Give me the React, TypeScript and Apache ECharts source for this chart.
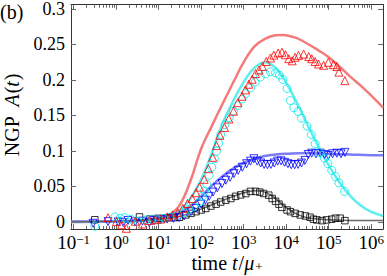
import React, { useEffect, useRef } from "react";
import * as echarts from "echarts";

const FONT = "'Liberation Serif', 'DejaVu Serif', serif";

// axis extents
const X_MIN = 0.087;
const X_MAX = 1.9e6;
const Y_MIN = -0.01;
const Y_MAX = 0.306;

// tick positions
const xMajorExponents = [-1, 0, 1, 2, 3, 4, 5, 6];
const xMinorDecades = [-2, -1, 0, 1, 2, 3, 4, 5, 6];
const xMinorMultipliers = [2, 3, 4, 5, 6, 7, 8, 9];
const yTickValues = [0, 0.05, 0.1, 0.15, 0.2, 0.25, 0.3];
const yTickLabels = ["0", "0.05", "0.1", "0.15", "0.2", "0.25", "0.3"];

// fitted curves (log10 t, A)
const redFitLogT = [-1.06, 0, 0.5, 1.0, 1.25, 1.5, 1.75, 2.0, 2.25, 2.5, 2.75, 3.0, 3.25, 3.5, 3.75, 3.9, 4.0, 4.25, 4.5, 4.75, 5.0, 5.25, 5.5, 5.75, 6.0, 6.28];
const redFitA = [0, 0.0003, 0.001, 0.005, 0.01, 0.024, 0.058, 0.103, 0.135, 0.166, 0.196, 0.225, 0.247, 0.258, 0.263, 0.2635, 0.263, 0.259, 0.251, 0.242, 0.232, 0.219, 0.205, 0.192, 0.178, 0.161];

const cyanFitLogT = [-1.06, 0, 0.5, 1.0, 1.25, 1.5, 1.75, 2.0, 2.25, 2.5, 2.75, 3.0, 3.25, 3.5, 3.75, 4.0, 4.25, 4.5, 4.75, 5.0, 5.25, 5.5, 5.75, 6.0, 6.28];
const cyanFitA = [0, 0.0003, 0.001, 0.004, 0.008, 0.016, 0.033, 0.06, 0.097, 0.138, 0.17, 0.197, 0.217, 0.225, 0.217, 0.196, 0.168, 0.137, 0.107, 0.08, 0.056, 0.037, 0.023, 0.014, 0.0085];

const blueFitLogT = [-1.06, 0, 0.5, 1.0, 1.25, 1.5, 1.75, 2.0, 2.25, 2.5, 2.75, 3.0, 3.25, 3.5, 3.75, 4.0, 4.5, 5.0, 5.5, 6.0, 6.28];
const blueFitA = [0.0005, 0.001, 0.002, 0.005, 0.008, 0.013, 0.022, 0.036, 0.051, 0.064, 0.075, 0.083, 0.089, 0.093, 0.095, 0.096, 0.097, 0.096, 0.095, 0.094, 0.094];

const grayFitLogT = [-1.06, 0, 0.5, 1.0, 1.5, 2.0, 2.5, 3.0, 3.25, 3.5, 3.75, 4.0, 4.25, 4.5, 5.0, 5.5, 6.28];
const grayFitA = [0, 0.001, 0.002, 0.004, 0.008, 0.018, 0.03, 0.041, 0.044, 0.042, 0.033, 0.02, 0.011, 0.006, 0.003, 0.002, 0.002];

// simulation data (log10 t, A)
const redLogT = [-0.19, 0.01, 0.13, 0.24, 0.45, 0.62, 0.78, 0.92, 1.05, 1.2, 1.33, 1.45, 1.57, 1.68, 1.79, 1.88, 1.96, 2.07, 2.17, 2.27, 2.36, 2.44, 2.55, 2.65, 2.76, 2.86, 2.96, 3.04, 3.12, 3.2, 3.28, 3.36, 3.44, 3.53, 3.63, 3.71, 3.81, 3.9, 3.98, 4.06, 4.14, 4.21, 4.29, 4.41, 4.53, 4.6, 4.68, 4.76, 4.88, 4.99, 5.11, 5.19, 5.24, 5.38];
const redA = [0.006, 0.0004, -0.004, -0.009, 0.001, -0.003, 0.002, 0.003, 0.004, 0.007, 0.0098, 0.013, 0.019, 0.026, 0.033, 0.041, 0.049, 0.06, 0.075, 0.091, 0.1075, 0.122, 0.133, 0.145, 0.156, 0.168, 0.177, 0.186, 0.194, 0.201, 0.209, 0.214, 0.219, 0.226, 0.231, 0.235, 0.238, 0.239, 0.2356, 0.23, 0.227, 0.232, 0.2346, 0.2365, 0.233, 0.23, 0.226, 0.2225, 0.2207, 0.2249, 0.2216, 0.219, 0.211, 0.199];

const cyanLogT = [-0.5, -0.03, 0.09, 0.2, 0.35, 0.5, 0.7, 0.85, 1.0, 1.12, 1.25, 1.45, 1.6, 1.72, 1.84, 1.96, 2.03, 2.08, 2.13, 2.19, 2.25, 2.31, 2.36, 2.41, 2.46, 2.56, 2.66, 2.76, 2.86, 2.96, 3.05, 3.16, 3.27, 3.39, 3.51, 3.63, 3.75, 3.84, 3.92, 4.02, 4.1, 4.18, 4.28, 4.36, 4.49, 4.59, 4.68, 4.78, 4.9, 4.98, 5.07, 5.16, 5.24, 5.37];
const cyanA = [-0.006, 0.007, 0.005, 0.006, 0.004, 0.001, 0.003, 0.004, 0.003, 0.005, 0.0066, 0.0098, 0.013, 0.0177, 0.022, 0.028, 0.036, 0.0437, 0.053, 0.0656, 0.077, 0.089, 0.0996, 0.111, 0.123, 0.137, 0.147, 0.156, 0.164, 0.173, 0.181, 0.189, 0.197, 0.204, 0.2086, 0.2115, 0.21, 0.2067, 0.2006, 0.188, 0.171, 0.161, 0.1555, 0.146, 0.135, 0.123, 0.11, 0.098, 0.09, 0.082, 0.0726, 0.064, 0.055, 0.043];

const blueLogT = [-0.54, -0.19, 0.05, 0.17, 0.28, 0.45, 0.62, 0.78, 0.9, 1.05, 1.2, 1.35, 1.48, 1.6, 1.76, 1.88, 2.0, 2.1, 2.19, 2.28, 2.38, 2.49, 2.58, 2.68, 2.77, 2.87, 2.97, 3.07, 3.16, 3.24, 3.32, 3.4, 3.48, 3.56, 3.64, 3.72, 3.8, 3.88, 3.96, 4.04, 4.12, 4.2, 4.28, 4.36, 4.44, 4.52, 4.6, 4.7, 4.8, 4.9, 4.99, 5.09, 5.19, 5.29, 5.38];
const blueA = [-0.002, 0.0004, 0.0, -0.001, 0.002, 0.0, 0.001, -0.001, 0.002, 0.003, 0.004, 0.005, 0.006, 0.0084, 0.0144, 0.019, 0.025, 0.0307, 0.036, 0.042, 0.048, 0.054, 0.0587, 0.063, 0.068, 0.0726, 0.077, 0.082, 0.0856, 0.089, 0.0856, 0.083, 0.081, 0.0806, 0.081, 0.083, 0.0856, 0.086, 0.084, 0.082, 0.0806, 0.0806, 0.081, 0.083, 0.0866, 0.095, 0.0968, 0.096, 0.0968, 0.095, 0.0936, 0.096, 0.0968, 0.096, 0.098];

const blackLogT = [-0.5, 0.55, 0.8, 0.98, 1.12, 1.25, 1.37, 1.49, 1.64, 1.76, 1.88, 2.0, 2.11, 2.23, 2.35, 2.46, 2.58, 2.7, 2.81, 2.93, 3.05, 3.16, 3.28, 3.38, 3.47, 3.59, 3.67, 3.75, 3.83, 3.9, 4.02, 4.1, 4.21, 4.33, 4.45, 4.56, 4.64, 4.72, 4.84, 4.95, 5.07, 5.16, 5.27, 5.38];
const blackA = [0.003, 0.007, 0.004, 0.005, 0.005, 0.006, 0.006, 0.0066, 0.0098, 0.012, 0.0144, 0.0168, 0.019, 0.0223, 0.025, 0.028, 0.0307, 0.033, 0.036, 0.038, 0.04, 0.043, 0.043, 0.042, 0.04, 0.0377, 0.033, 0.029, 0.025, 0.0205, 0.0168, 0.0144, 0.012, 0.0098, 0.0084, 0.0066, 0.0038, 0.0028, 0.0018, 0.0028, 0.0038, 0.0052, 0.0052, 0.0018];

const pairs = (logT: number[], a: number[]) => logT.map((l, i) => [Math.pow(10, l), a[i]]);

const xMajorValues = xMajorExponents.map((e) => Math.pow(10, e));
const xMinorValues: number[] = [];
xMinorDecades.forEach((d) =>
  xMinorMultipliers.forEach((m) => {
    const v = m * Math.pow(10, d);
    if (v > X_MIN && v < X_MAX) xMinorValues.push(v);
  })
);

const AXIS_COLOR = "#333";
const TICK_COLOR = "#666";

function xAxisCfg(position: "top" | "bottom", values: number[], len: number, labels: boolean, line: boolean) {
  return {
    type: "log",
    logBase: 10,
    min: X_MIN,
    max: X_MAX,
    position,
    axisLine: { show: line, onZero: false, lineStyle: { color: AXIS_COLOR, width: 1 } },
    axisTick: { show: true, inside: true, length: len, customValues: values, lineStyle: { color: TICK_COLOR, width: 1 } },
    axisLabel: labels
      ? {
          show: true,
          customValues: values,
          margin: 4,
          formatter: (v: number) => {
            const e = Math.round(Math.log10(v));
            return `{b|10}{e|${e < 0 ? "\u2212" + -e : e}}`;
          },
          rich: {
            b: { fontSize: 19, fontFamily: FONT, color: "#000", verticalAlign: "bottom", lineHeight: 19 },
            e: { fontSize: 13, fontFamily: FONT, color: "#000", verticalAlign: "top", lineHeight: 12 },
          },
        }
      : { show: false },
    splitLine: { show: false },
    minorTick: { show: false },
  };
}

function yAxisCfg(position: "left" | "right", labels: boolean) {
  return {
    type: "value",
    min: Y_MIN,
    max: Y_MAX,
    position,
    axisLine: { show: true, onZero: false, lineStyle: { color: AXIS_COLOR, width: 1 } },
    axisTick: { show: true, inside: true, length: 5, customValues: yTickValues, lineStyle: { color: TICK_COLOR, width: 1 } },
    axisLabel: labels
      ? {
          show: true,
          customValues: yTickValues,
          margin: 6,
          fontSize: 18,
          fontFamily: FONT,
          color: "#000",
          formatter: (v: number) => yTickLabels[yTickValues.findIndex((t) => Math.abs(t - v) < 1e-9)] ?? "",
        }
      : { show: false },
    splitLine: { show: false },
  };
}

function fitLine(name: string, logT: number[], a: number[], color: string, width: number) {
  return {
    name,
    type: "line",
    data: pairs(logT, a),
    smooth: 0.4,
    showSymbol: false,
    symbol: "none",
    lineStyle: { color, width },
    xAxisIndex: 0,
    yAxisIndex: 0,
    z: 2,
  };
}

function markers(name: string, logT: number[], a: number[], symbol: string, size: number, color: string, rotate = 0) {
  return {
    name,
    type: "scatter",
    data: pairs(logT, a),
    symbol,
    symbolSize: size,
    symbolRotate: rotate,
    itemStyle: { color: "rgba(0,0,0,0)", borderColor: color, borderWidth: 1 },
    xAxisIndex: 0,
    yAxisIndex: 0,
    z: 3,
  };
}

const option = {
  animation: false,
  textStyle: { fontFamily: FONT },
  grid: { left: 71, right: 2, top: 3, bottom: 47, containLabel: false },
  xAxis: [
    xAxisCfg("bottom", xMajorValues, 5, true, true),
    xAxisCfg("bottom", xMinorValues, 3, false, false),
    xAxisCfg("top", xMajorValues, 5, false, true),
    xAxisCfg("top", xMinorValues, 3, false, false),
  ],
  yAxis: [yAxisCfg("left", true), yAxisCfg("right", false)],
  series: [
    fitLine("redFit", redFitLogT, redFitA, "#f37b7b", 2.5),
    fitLine("cyanFit", cyanFitLogT, cyanFitA, "#5eeeee", 2.5),
    fitLine("blueFit", blueFitLogT, blueFitA, "#7c7cf4", 2.5),
    fitLine("grayFit", grayFitLogT, grayFitA, "#6a6a6a", 1.5),
    markers("black", blackLogT, blackA, "rect", 6.5, "#000"),
    markers("blue", blueLogT, blueA, "triangle", 8, "#0000ff", 180),
    markers("cyan", cyanLogT, cyanA, "circle", 8, "#00e8e8"),
    markers("red", redLogT, redA, "triangle", 8, "#ff0000"),
  ],
  graphic: [
    {
      type: "text",
      left: 0,
      top: 2,
      style: { text: "(b)", fontSize: 20, fontFamily: FONT, fill: "#000" },
    },
    {
      type: "text",
      x: 12,
      y: 115,
      rotation: Math.PI / 2,
      style: {
        text: "{r|NGP  }{i|A}{r|(}{i|t}{r|)}",
        align: "center",
        verticalAlign: "middle",
        rich: {
          r: { fontSize: 20, fontFamily: FONT, fill: "#000" },
          i: { fontSize: 20, fontFamily: FONT, fontStyle: "italic", fill: "#000", padding: [0, 1, 0, 0] },
        },
      },
    },
    {
      type: "text",
      x: 227,
      y: 263,
      style: {
        text: "{r|time }{i|t}{r|/}{i|\u03bc}{s|+}",
        align: "center",
        verticalAlign: "middle",
        rich: {
          r: { fontSize: 20, fontFamily: FONT, fill: "#000", verticalAlign: "top", lineHeight: 20 },
          i: { fontSize: 20, fontFamily: FONT, fontStyle: "italic", fill: "#000", verticalAlign: "top", lineHeight: 20, padding: [0, 1, 0, 0] },
          s: { fontSize: 13, fontFamily: FONT, fill: "#000", verticalAlign: "bottom", lineHeight: 6 },
        },
      },
    },
  ],
};

export default function App() {
  const ref = useRef<HTMLDivElement>(null);
  useEffect(() => {
    if (!ref.current) return;
    const chart = echarts.init(ref.current, null, { renderer: "svg" });
    chart.setOption(option as any);
    return () => chart.dispose();
  }, []);
  return <div ref={ref} style={{ position: "fixed", left: 0, top: 0, width: 387, height: 276, background: "#fff" }} />;
}
